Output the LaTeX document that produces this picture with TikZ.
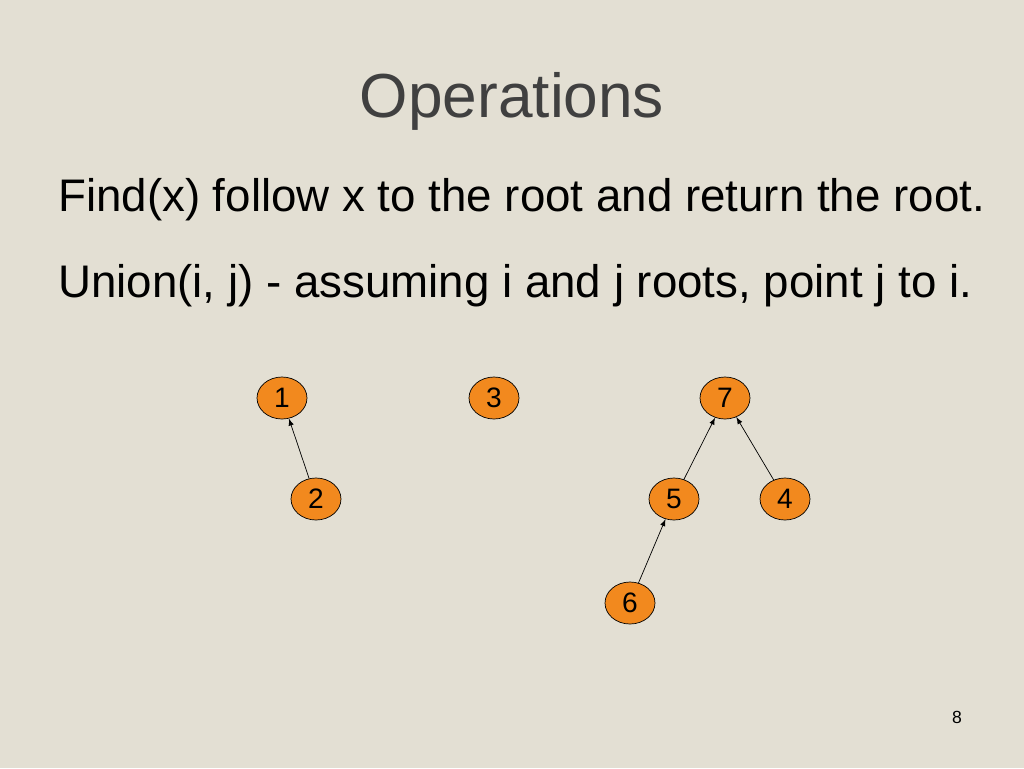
\documentclass[tikz,border=0pt]{standalone}
\usepackage{fontspec}
\setmainfont{Liberation Sans}
\usetikzlibrary{shapes.geometric}
\definecolor{mybg}{RGB}{227,223,211}
\definecolor{myorange}{RGB}{242,137,30}
\definecolor{mytitle}{RGB}{64,64,64}
\tikzset{
  setnode/.style={ellipse, draw=black, fill=myorange, minimum width=1cm, minimum height=0.84cm, inner sep=0pt, font=\fontsize{16}{18}\selectfont},
  parent/.style={->, >=latex, thin}
}
\begin{document}
\begin{tikzpicture}[x=0.02cm, y=-0.02cm]

  % Background
  \fill[mybg] (0,0) rectangle (1024,768);

  % Title and text
  \node[text=mytitle, font=\fontsize{35.4}{40}\selectfont] (title) at (512,101) {Operations};
  \node[anchor=west, font=\fontsize{26}{30}\selectfont] (find) at (52,200) {Find(x) follow x to the root and return the root.};
  \node[anchor=west, font=\fontsize{26}{30}\selectfont] (union) at (52,286) {Union(i, j) - assuming i and j roots, point j to i.};

  % Nodes
  \node[setnode] (n1) at (282,398) {1};
  \node[setnode] (n3) at (494,398) {3};
  \node[setnode] (n7) at (725,398) {7};
  \node[setnode] (n2) at (316,499) {2};
  \node[setnode] (n5) at (674,499) {5};
  \node[setnode] (n4) at (785,499) {4};
  \node[setnode] (n6) at (630,603) {6};

  % Parent pointers
  \draw[parent] (n2) -- (n1);
  \draw[parent] (n5) -- (n7);
  \draw[parent] (n4) -- (n7);
  \draw[parent] (n6) -- (n5);

  % Page number
  \node[font=\fontsize{10}{12}\selectfont] (page) at (957,717) {8};

\end{tikzpicture}
\end{document}
